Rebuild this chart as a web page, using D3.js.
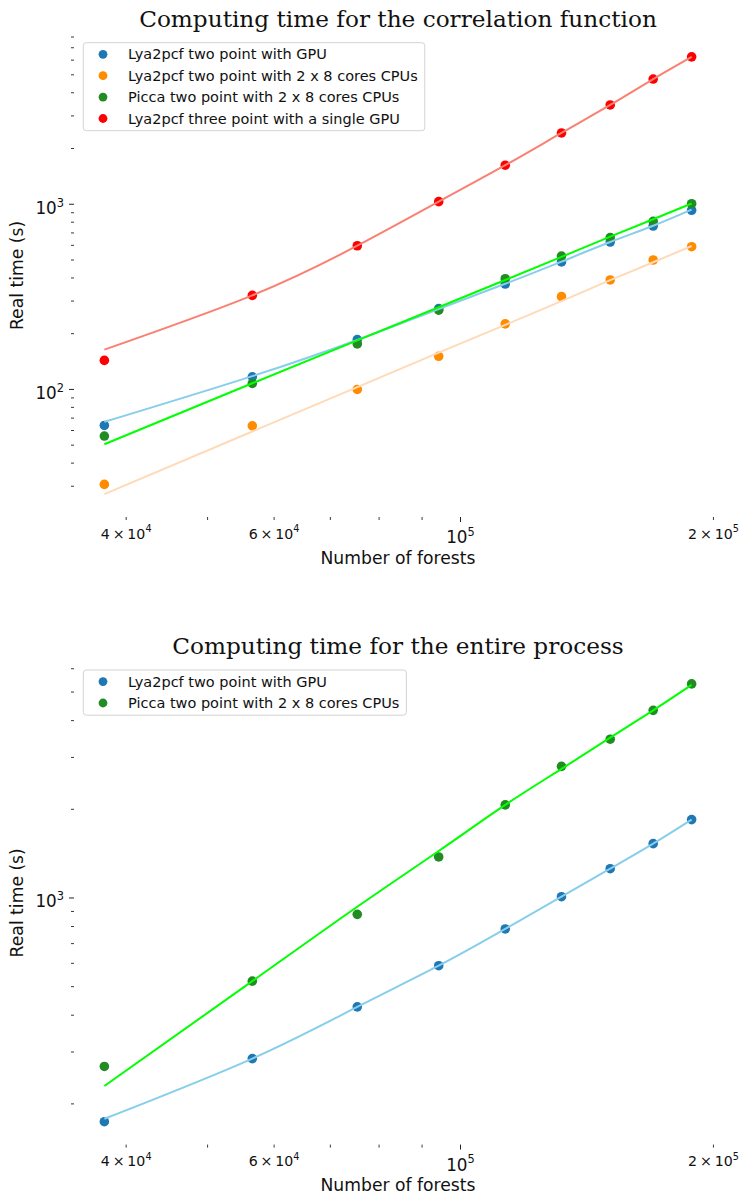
<!DOCTYPE html>
<html><head><meta charset="utf-8">
<script src="https://cdn.jsdelivr.net/npm/d3@7"></script>
<style>body{margin:0;background:#fff} svg{display:block} text{font-family:"DejaVu Sans",sans-serif;fill:#111}</style>
</head><body><svg id="c" width="740" height="1194"></svg>
<script>
// ---------- data ----------
const forests = [37680, 56520, 75360, 94200, 113040, 131880, 150720, 169560, 188400];

// correlation function (top panel)
const lyaGpu     = [63.9, 117, 186, 273, 371, 488, 625, 763, 928];
const lyaCpu     = [30.7, 63.6, 100, 151, 226, 317, 390, 500, 590];
const piccaCorr  = [56, 107.7, 176, 268, 396, 525, 660, 809, 1007];
const lya3pt     = [143.5, 322, 597, 1033, 1625, 2427, 3436, 4743, 6250];
const lyaGpuFit    = [66.8, 118, 185, 272, 372, 490, 625, 765, 935];
const lyaCpuFit    = [27.2, 59.3, 103, 158, 223, 300, 389, 486, 595];
const piccaCorrFit = [50.6, 108, 184, 278, 390, 520, 668, 830, 1009];
const lya3ptFit    = [164, 322, 597, 1033, 1625, 2427, 3436, 4743, 6250];

// entire process (bottom panel)
const totalGpu      = [174, 285, 427, 589, 785, 1010, 1257, 1529, 1845];
const totalPicca    = [268, 522, 880, 1378, 2070, 2798, 3459, 4335, 5330];
const totalGpuFit   = [178, 285, 427, 589, 785, 1010, 1257, 1529, 1845];
const totalPiccaFit = [230, 522, 934, 1444, 2070, 2742, 3500, 4335, 5290];

const labels = {
  gpu: "Lya2pcf two point with GPU",
  cpu: "Lya2pcf two point with 2 x 8 cores CPUs",
  picca: "Picca two point with 2 x 8 cores CPUs",
  three: "Lya2pcf three point with a single GPU"
};
const titles = ["Computing time for the correlation function", "Computing time for the entire process"];
const xLabel = "Number of forests";
const yLabel = "Real time (s)";
const xMinorTicks = [40000, 50000, 60000, 70000, 80000, 90000, 200000];
const xMajorTicks = [100000];
const xTickLabels = [
  {v: 40000, m: "4", e: "4", major: false},
  {v: 60000, m: "6", e: "4", major: false},
  {v: 100000, m: "", e: "5", major: true},
  {v: 200000, m: "2", e: "5", major: false}
];

// ---------- layout ----------
const svg = d3.select("#c");
const L = 75, R = 721;

const panels = [
  {title: titles[0], top: 35, bottom: 516, titleY: 27, legendY: 42.7,
   series: [
     {label: labels.gpu, vals: lyaGpu, fit: lyaGpuFit, color: "#1f77b4", fitColor: "#87ceeb"},
     {label: labels.cpu, vals: lyaCpu, fit: lyaCpuFit, color: "#ff8c00", fitColor: "#ffdab9"},
     {label: labels.picca, vals: piccaCorr, fit: piccaCorrFit, color: "#228b22", fitColor: "#00ff00"},
     {label: labels.three, vals: lya3pt, fit: lya3ptFit, color: "#ff0000", fitColor: "#fa8072"}
   ]},
  {title: titles[1], top: 662, bottom: 1143.6, titleY: 653.5, legendY: 670,
   series: [
     {label: labels.gpu, vals: totalGpu, fit: totalGpuFit, color: "#1f77b4", fitColor: "#87ceeb"},
     {label: labels.picca, vals: totalPicca, fit: totalPiccaFit, color: "#228b22", fitColor: "#00ff00"}
   ]}
];

function logPad(ext) {
  const a = Math.log10(ext[0]), b = Math.log10(ext[1]), p = (b - a) * 0.05;
  return [Math.pow(10, a - p), Math.pow(10, b + p)];
}

function sciLabel(g, x, y, mant, exp, size, anchor) {
  const t = g.append("text").attr("x", x).attr("y", y).attr("text-anchor", anchor)
    .style("font-size", size + "px");
  t.append("tspan").text(mant ? mant + "\u2009\u00d7\u200910" : "10");
  t.append("tspan").attr("dy", -0.43 * size).style("font-size", (0.68 * size) + "px").text(exp);
}

const x = d3.scaleLog().domain(logPad(d3.extent(forests))).range([L, R]);

panels.forEach(p => {
  const g = svg.append("g");
  const allY = p.series.flatMap(s => s.vals.concat(s.fit));
  const y = d3.scaleLog().domain(logPad(d3.extent(allY))).range([p.bottom, p.top]);

  // title
  g.append("text").attr("x", (L + R) / 2).attr("y", p.titleY).attr("text-anchor", "middle")
    .style("font-family", "'DejaVu Serif', serif").style("font-size", "23.2px").text(p.title);

  // x ticks
  xMinorTicks.forEach(v => g.append("line").attr("x1", x(v)).attr("x2", x(v))
    .attr("y1", p.bottom + 1).attr("y2", p.bottom + 4).attr("stroke", "#222").attr("stroke-width", 0.9));
  xMajorTicks.forEach(v => g.append("line").attr("x1", x(v)).attr("x2", x(v))
    .attr("y1", p.bottom + 1).attr("y2", p.bottom + 6).attr("stroke", "#222").attr("stroke-width", 1));
  xTickLabels.forEach(t => {
    if (t.major) sciLabel(g, x(t.v), p.bottom + 27, t.m, t.e, 16.8, "middle");
    else sciLabel(g, x(t.v), p.bottom + 22.5, t.m, t.e, 14.2, "middle");
  });

  // y ticks
  const [d0, d1] = y.domain();
  for (let d = Math.floor(Math.log10(d0)); d <= Math.ceil(Math.log10(d1)); d++) {
    for (let k = 1; k <= 9; k++) {
      const v = k * Math.pow(10, d);
      if (v < d0 || v > d1) continue;
      const major = k === 1;
      g.append("line").attr("x1", L - 1).attr("x2", L - (major ? 6 : 4))
        .attr("y1", y(v)).attr("y2", y(v)).attr("stroke", "#222").attr("stroke-width", major ? 1 : 0.9);
      if (major) sciLabel(g, 64, y(v) + 9.5, "", String(d), 16.8, "end");
    }
  }

  // axis labels
  g.append("text").attr("x", (L + R) / 2).attr("y", p.bottom + 47.5).attr("text-anchor", "middle")
    .style("font-size", "17.2px").text(xLabel);
  g.append("text").attr("transform", `translate(23,${(p.top + p.bottom) / 2}) rotate(-90)`)
    .attr("text-anchor", "middle").style("font-size", "17.2px").text(yLabel);

  // scatter
  p.series.forEach(s => {
    g.append("g").selectAll("circle").data(s.vals).join("circle")
      .attr("cx", (d, i) => x(forests[i])).attr("cy", d => y(d)).attr("r", 4.8).attr("fill", s.color);
  });
  // fits
  const line = d3.line().x((d, i) => x(forests[i])).y(d => y(d)).curve(d3.curveNatural);
  p.series.forEach(s => {
    g.append("path").attr("d", line(s.fit)).attr("fill", "none")
      .attr("stroke", s.fitColor).attr("stroke-width", 2);
  });

  // legend
  const lg = g.append("g");
  const rect = lg.append("rect").attr("x", 83.3).attr("y", p.legendY).attr("rx", 3)
    .attr("fill", "rgba(255,255,255,0.8)").attr("stroke", "#d3d3d3").attr("stroke-width", 1);
  let maxW = 0;
  p.series.forEach((s, i) => {
    const cy = p.legendY + 11.6 + i * 21.4;
    lg.append("circle").attr("cx", 103).attr("cy", cy).attr("r", 4.4).attr("fill", s.color);
    const t = lg.append("text").attr("x", 128).attr("y", cy + 5).style("font-size", "14.5px").text(s.label);
    maxW = Math.max(maxW, t.node().getComputedTextLength());
  });
  rect.attr("width", 128 + maxW + 7 - 83.3).attr("height", p.series.length * 21.4 + 2.4);
});
</script>
</body></html>
